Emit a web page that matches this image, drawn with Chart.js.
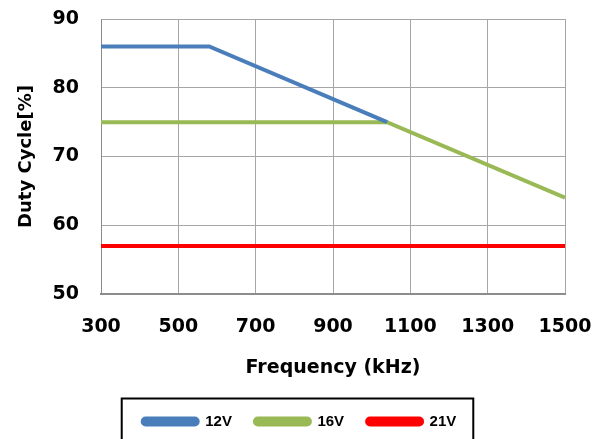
<!DOCTYPE html>
<html>
<head>
<style>
  html, body { margin: 0; padding: 0; background: #fff; overflow: hidden; }
  #wrap { width: 602px; height: 439px; }
</style>
<title>Duty Cycle vs Frequency</title>
</head>
<body>
<div id="wrap"><canvas id="chart1" width="602" height="439"></canvas></div>
<script src="https://cdn.jsdelivr.net/npm/chart.js@4/dist/chart.umd.min.js"></script>
<script>
// frequency points (kHz) and duty cycle (%) per input voltage
var freq    = [300, 580, 1040, 1500];
var duty12V = [86, 86, 75, null];   // runs under the 16V line after 1040
var duty16V = [75, 75, 75, 64];
var duty21V = [57, 57, 57, 57];

var xTicks = [300, 500, 700, 900, 1100, 1300, 1500];
var yTicks = [50, 60, 70, 80, 90];
var seriesNames = ['12V', '16V', '21V'];

var colors = ['#4a7ebb', '#98b954', '#ff0000'];
var fontFam = '"DejaVu Sans", sans-serif';
var legendShift = 17;

function toPoints(ys) {
  return freq.map(function (f, i) { return { x: f, y: ys[i] }; });
}

function lineSet(i, ys) {
  return {
    label: seriesNames[i],
    data: toPoints(ys),
    borderColor: colors[i],
    backgroundColor: colors[i],
    borderWidth: 4,
    pointRadius: 0,
    fill: false,
    tension: 0
  };
}

// legend sits a bit right of centre in the original, and has a black frame
var legendFrame = {
  id: 'legendFrame',
  afterUpdate: function (chart) {
    var lg = chart.legend;
    lg.left += legendShift;
    lg.right += legendShift;
    lg.legendHitBoxes.forEach(function (h) { h.left += legendShift; });
  },
  afterDraw: function (chart) {
    var hb = chart.legend.legendHitBoxes;
    if (!hb || !hb.length) return;
    var last = hb[hb.length - 1];
    var left = hb[0].left - 21;
    var right = last.left + last.width + 17;
    var top = hb[0].top + hb[0].height / 2 - 23;
    var ctx = chart.ctx;
    ctx.save();
    ctx.strokeStyle = '#000';
    ctx.lineWidth = 2;
    ctx.strokeRect(left, top, right - left, 80);
    ctx.restore();
  }
};

var ctx1 = document.getElementById('chart1').getContext('2d');
var chart1 = new Chart(ctx1, {
  type: 'line',
  data: {
    datasets: [lineSet(0, duty12V), lineSet(1, duty16V), lineSet(2, duty21V)]
  },
  options: {
    responsive: false,
    animation: false,
    layout: { padding: { top: 19, right: 37, left: 0, bottom: 0 } },
    scales: {
      x: {
        type: 'linear',
        min: 300,
        max: 1500,
        afterBuildTicks: function (s) { s.ticks = xTicks.map(function (v) { return { value: v }; }); },
        afterFit: function (s) { s.height = 97; s.paddingLeft = 0; s.paddingRight = 0; },
        grid: { color: '#a6a6a6', lineWidth: 1, drawTicks: false },
        border: { color: '#8c8c8c', width: 2 },
        ticks: {
          color: '#000',
          padding: 22,
          maxRotation: 0,
          callback: function (v) { return String(v); },
          font: { family: fontFam, size: 19, weight: 'bold' }
        },
        title: {
          display: true,
          text: 'Frequency (kHz)',
          color: '#000',
          padding: { top: 0, bottom: 12 },
          font: { family: fontFam, size: 19, weight: 'bold' }
        }
      },
      y: {
        min: 50,
        max: 90,
        afterBuildTicks: function (s) { s.ticks = yTicks.map(function (v) { return { value: v }; }); },
        afterFit: function (s) { s.width = 101; s.paddingTop = 0; s.paddingBottom = 0; },
        grid: { color: '#a6a6a6', lineWidth: 1, drawTicks: false },
        border: { color: '#8c8c8c', width: 1 },
        ticks: {
          color: '#000',
          padding: 22,
          callback: function (v) { return String(v); },
          font: { family: fontFam, size: 19, weight: 'bold' }
        },
        title: {
          display: true,
          text: 'Duty Cycle[%]',
          color: '#000',
          padding: { top: 16, bottom: 0 },
          font: { family: fontFam, size: 18, weight: 'bold' }
        }
      }
    },
    plugins: {
      tooltip: { enabled: false },
      legend: {
        position: 'bottom',
        labels: {
          color: '#000',
          boxWidth: 55,
          boxHeight: 6,
          useBorderRadius: true,
          borderRadius: 3,
          padding: 23,
          font: { family: '"Liberation Sans", sans-serif', size: 15, weight: 'bold' }
        }
      }
    }
  },
  plugins: [legendFrame]
});
</script>
</body>
</html>
